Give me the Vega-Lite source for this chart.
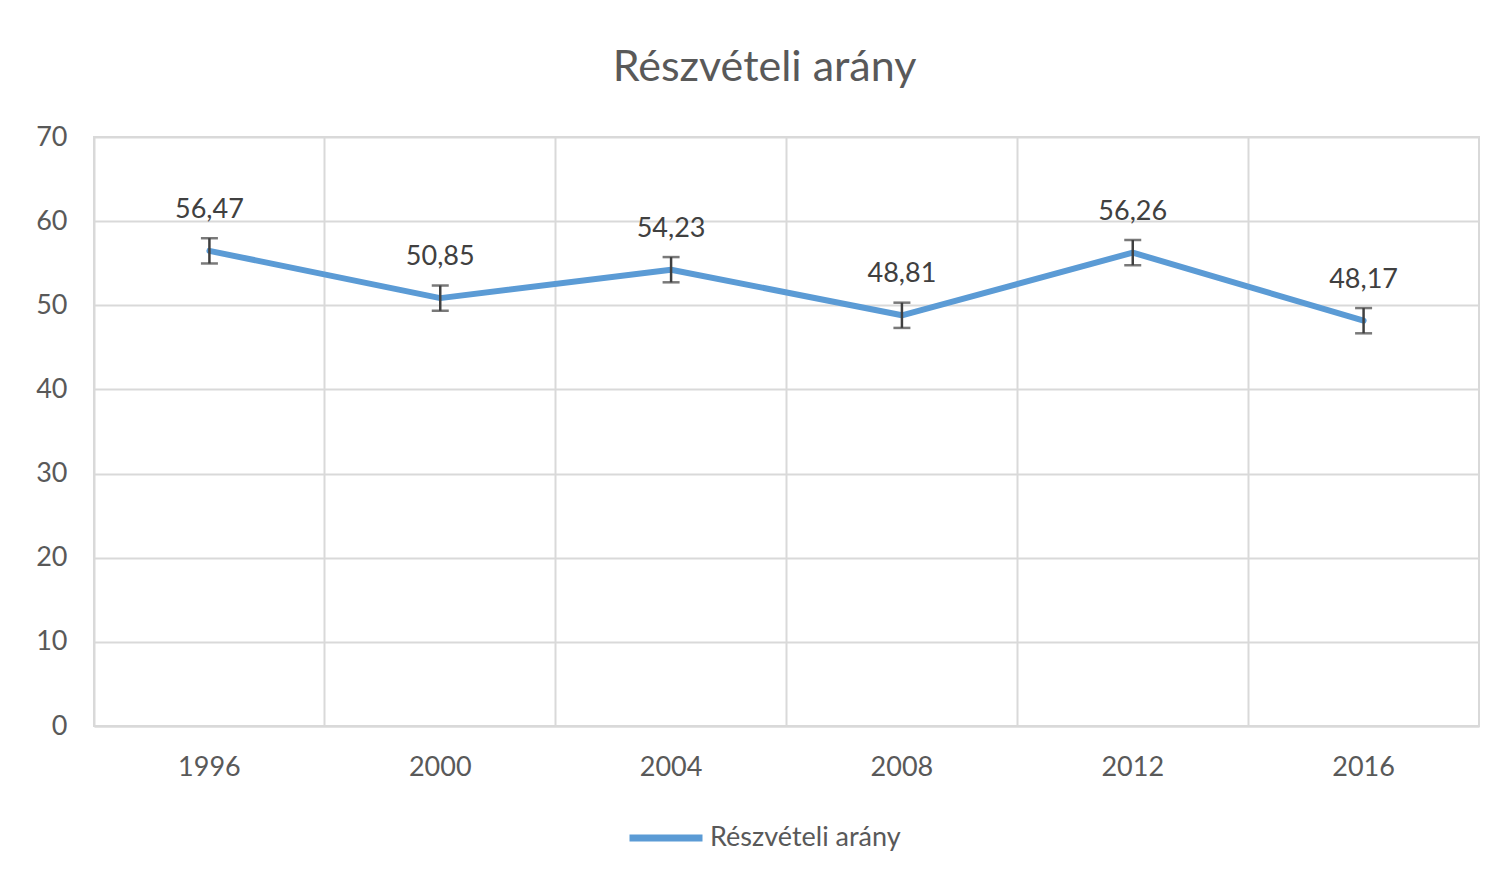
{
  "$schema": "https://vega.github.io/schema/vega-lite/v6.json",
  "autosize": {"type": "none"},
  "padding": {"left": 94, "top": 137, "right": 30, "bottom": 156},
  "width": 1385,
  "height": 589,
  "background": "white",
  "title": {
    "text": "Részvételi arány",
    "font": "Lato",
    "fontSize": 43,
    "fontWeight": "normal",
    "color": "#595959",
    "anchor": "middle",
    "offset": 33,
    "dx": -22
  },
  "config": {
    "view": {"stroke": "#d9d9d9", "strokeWidth": 2},
    "font": "Lato"
  },
  "data": {
    "values": [
      {"year": "1996", "value": 56.47, "lower": 54.97, "upper": 57.97, "label": "56,47", "series": "Részvételi arány"},
      {"year": "2000", "value": 50.85, "lower": 49.35, "upper": 52.35, "label": "50,85", "series": "Részvételi arány"},
      {"year": "2004", "value": 54.23, "lower": 52.73, "upper": 55.73, "label": "54,23", "series": "Részvételi arány"},
      {"year": "2008", "value": 48.81, "lower": 47.31, "upper": 50.31, "label": "48,81", "series": "Részvételi arány"},
      {"year": "2012", "value": 56.26, "lower": 54.76, "upper": 57.76, "label": "56,26", "series": "Részvételi arány"},
      {"year": "2016", "value": 48.17, "lower": 46.67, "upper": 49.67, "label": "48,17", "series": "Részvételi arány"}
    ]
  },
  "encoding": {
    "x": {
      "field": "year",
      "type": "ordinal",
      "scale": {"type": "band", "paddingInner": 0, "paddingOuter": 0},
      "axis": {
        "title": null,
        "labelAngle": 0,
        "labelFont": "Lato",
        "labelFontSize": 27,
        "labelColor": "#595959",
        "labelPadding": 28,
        "ticks": false,
        "domain": true,
        "domainColor": "#d9d9d9",
        "domainWidth": 2,
        "grid": true,
        "bandPosition": 0,
        "gridColor": "#d9d9d9",
        "gridWidth": 2
      }
    }
  },
  "layer": [
    {
      "mark": {"type": "line", "strokeWidth": 6, "strokeCap": "round", "strokeJoin": "round"},
      "encoding": {
        "y": {
          "field": "value",
          "type": "quantitative",
          "scale": {"domain": [0, 70], "nice": false},
          "axis": {
            "title": null,
            "values": [0, 10, 20, 30, 40, 50, 60, 70],
            "labelFont": "Lato",
            "labelFontSize": 27,
            "labelColor": "#595959",
            "labelPadding": 27,
            "ticks": false,
            "domain": false,
            "grid": true,
            "gridColor": "#d9d9d9",
            "gridWidth": 2
          }
        },
        "color": {
          "field": "series",
          "type": "nominal",
          "scale": {"range": ["#5b9bd5"]},
          "legend": {
            "title": null,
            "orient": "none",
            "legendX": 532,
            "legendY": 661,
            "direction": "horizontal",
            "symbolType": "stroke",
            "symbolSize": 5329,
            "symbolStrokeWidth": 7,
            "labelFont": "Lato",
            "labelFontSize": 27,
            "labelColor": "#595959",
            "labelOffset": 4,
            "labelLimit": 500
          }
        }
      }
    },
    {
      "mark": {"type": "rule", "color": "#404040", "strokeWidth": 2.5},
      "encoding": {
        "y": {"field": "lower", "type": "quantitative"},
        "y2": {"field": "upper"}
      }
    },
    {
      "mark": {"type": "tick", "color": "#404040", "thickness": 2.5, "size": 17},
      "encoding": {"y": {"field": "lower", "type": "quantitative"}}
    },
    {
      "mark": {"type": "tick", "color": "#404040", "thickness": 2.5, "size": 17},
      "encoding": {"y": {"field": "upper", "type": "quantitative"}}
    },
    {
      "mark": {"type": "text", "font": "Lato", "fontSize": 27, "color": "#404040", "baseline": "alphabetic", "dy": -33},
      "encoding": {
        "y": {"field": "value", "type": "quantitative"},
        "text": {"field": "label"}
      }
    }
  ]
}
